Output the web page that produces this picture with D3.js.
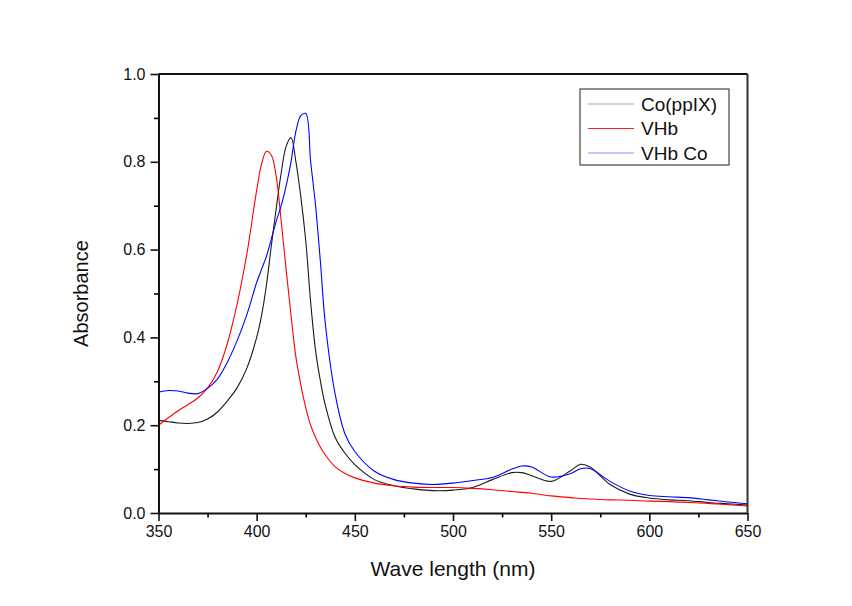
<!DOCTYPE html>
<head>
  <meta charset="utf-8">
  <script src="https://d3js.org/d3.v7.min.js"></script>
  <style>
    body { margin:0; background:#fff; }
    svg { font-family: "Liberation Sans", Arial, sans-serif; }
  </style>
</head>
<body>
<div id="chart"></div>
<script>

// wavelength grid (nm)
var wavelength = [350, 355, 360, 365, 370, 375, 380, 385, 390, 395, 400, 402.5, 405, 407.5, 410, 412.5, 415, 417.5, 420, 422.5, 425, 427.5, 430, 432.5, 435, 440, 445, 450, 460, 470, 480, 490, 500, 510, 520, 530, 535, 540, 550, 560, 565, 570, 580, 590, 600, 610, 620, 630, 640, 650];

// Co(ppIX)
var coPPIX = [0.211, 0.208, 0.205, 0.204, 0.206, 0.214, 0.230, 0.255, 0.285, 0.330, 0.400, 0.450, 0.520, 0.610, 0.695, 0.775, 0.835, 0.855, 0.800, 0.720, 0.620, 0.480, 0.370, 0.300, 0.245, 0.172, 0.136, 0.110, 0.076, 0.062, 0.055, 0.051, 0.052, 0.058, 0.076, 0.092, 0.092, 0.085, 0.072, 0.097, 0.111, 0.104, 0.065, 0.043, 0.034, 0.030, 0.028, 0.024, 0.021, 0.018];

// VHb
var vhb = [0.200, 0.217, 0.233, 0.247, 0.262, 0.285, 0.322, 0.385, 0.475, 0.590, 0.735, 0.795, 0.824, 0.815, 0.765, 0.665, 0.555, 0.450, 0.355, 0.292, 0.240, 0.200, 0.172, 0.150, 0.132, 0.105, 0.090, 0.080, 0.068, 0.062, 0.059, 0.058, 0.058, 0.056, 0.053, 0.049, 0.047, 0.045, 0.039, 0.035, 0.033, 0.032, 0.030, 0.029, 0.027, 0.026, 0.024, 0.022, 0.019, 0.016];

// VHb Co
var vhbCo = [0.275, 0.279, 0.278, 0.273, 0.272, 0.284, 0.305, 0.343, 0.392, 0.452, 0.525, 0.555, 0.585, 0.625, 0.665, 0.700, 0.745, 0.800, 0.870, 0.905, 0.910, 0.800, 0.700, 0.570, 0.430, 0.270, 0.180, 0.140, 0.095, 0.076, 0.068, 0.065, 0.068, 0.074, 0.081, 0.100, 0.107, 0.105, 0.082, 0.090, 0.101, 0.101, 0.072, 0.050, 0.040, 0.037, 0.035, 0.030, 0.025, 0.021];

var seriesNames = ["Co(ppIX)", "VHb", "VHb Co"];
var seriesColors = ["#1a1a1a", "#ff0000", "#0000ff"];
var legendColors = ["#a8a8a8", "#ff2020", "#9090ff"];
var xTicks = [350, 400, 450, 500, 550, 600, 650];
var yTicks = [0.0, 0.2, 0.4, 0.6, 0.8, 1.0];

var width = 852, height = 606;
var margin = {left: 158.5, right: 852 - 747.5, top: 74, bottom: 606 - 513};

var svg = d3.select("#chart").append("svg")
    .attr("width", width)
    .attr("height", height);

var x = d3.scaleLinear().domain([350, 650]).range([margin.left, width - margin.right]);
var y = d3.scaleLinear().domain([0, 1]).range([height - margin.bottom, margin.top]);

svg.append("clipPath").attr("id", "clip")
  .append("rect")
    .attr("x", margin.left).attr("y", margin.top)
    .attr("width", x(650) - x(350)).attr("height", y(0) - y(1));

var line = d3.line()
    .x(function(d) { return x(d[0]); })
    .y(function(d) { return y(d[1]); })
    .curve(d3.curveCatmullRom.alpha(0.5));

var allSeries = [coPPIX, vhb, vhbCo];

svg.append("g").attr("clip-path", "url(#clip)")
  .selectAll("path")
    .data(allSeries)
  .enter().append("path")
    .attr("d", function(s) { return line(wavelength.map(function(w, i) { return [w, s[i]]; })); })
    .attr("fill", "none")
    .attr("stroke", function(d, i) { return seriesColors[i]; })
    .attr("stroke-width", 1.1);

// minor ticks
var xMinor = d3.range(375, 650, 50);
var yMinor = d3.range(0.1, 1.0, 0.2);

svg.append("g")
    .attr("transform", "translate(0," + y(0) + ")")
    .call(d3.axisBottom(x).tickValues(xMinor).tickSize(4.5).tickFormat(""))
    .call(function(g) { g.select(".domain").remove(); g.selectAll("line").attr("stroke-width", 1.6); });

svg.append("g")
    .attr("transform", "translate(" + x(350) + ",0)")
    .call(d3.axisLeft(y).tickValues(yMinor).tickSize(4.5).tickFormat(""))
    .call(function(g) { g.select(".domain").remove(); g.selectAll("line").attr("stroke-width", 1.6); });

// major axes
var xAxis = svg.append("g")
    .attr("transform", "translate(0," + y(0) + ")")
    .call(d3.axisBottom(x).tickValues(xTicks).tickSize(8).tickPadding(5).tickSizeOuter(0));

var yAxis = svg.append("g")
    .attr("transform", "translate(" + x(350) + ",0)")
    .call(d3.axisLeft(y).tickValues(yTicks).tickSize(8).tickPadding(5).tickSizeOuter(0).tickFormat(d3.format(".1f")));

[xAxis, yAxis].forEach(function(g) {
  g.selectAll("line").attr("stroke-width", 1.6).attr("stroke", "#111");
  g.select(".domain").attr("stroke-width", 2).attr("stroke", "#111");
  g.selectAll("text").attr("font-size", "16px").attr("fill", "#111")
    .attr("font-family", "'Liberation Sans', Arial, sans-serif");
});

// top and right frame
svg.append("line")
    .attr("x1", x(350)).attr("x2", x(650)).attr("y1", y(1)).attr("y2", y(1))
    .attr("stroke", "#111").attr("stroke-width", 2);
svg.append("line")
    .attr("x1", x(650)).attr("x2", x(650)).attr("y1", y(1)).attr("y2", y(0))
    .attr("stroke", "#333").attr("stroke-width", 2);

// axis titles
svg.append("text")
    .attr("x", (x(350) + x(650)) / 2)
    .attr("y", 576)
    .attr("text-anchor", "middle")
    .attr("font-size", "21px")
    .attr("fill", "#111")
    .text("Wave length (nm)");

svg.append("text")
    .attr("transform", "translate(88," + (y(0) + y(1)) / 2 + ") rotate(-90)")
    .attr("text-anchor", "middle")
    .attr("font-size", "20px")
    .attr("fill", "#111")
    .text("Absorbance");

// legend
var legend = svg.append("g");
legend.append("rect")
    .attr("x", 580).attr("y", 89)
    .attr("width", 149).attr("height", 76)
    .attr("fill", "#fff")
    .attr("stroke", "#444").attr("stroke-width", 1.2);

var items = legend.selectAll("g.item")
    .data(seriesNames)
  .enter().append("g")
    .attr("class", "item")
    .attr("transform", function(d, i) { return "translate(0," + (104 + i * 24.5) + ")"; });

items.append("line")
    .attr("x1", 588).attr("x2", 634)
    .attr("stroke", function(d, i) { return legendColors[i]; })
    .attr("stroke-width", 1.2);

items.append("text")
    .attr("x", 641)
    .attr("dy", "0.35em")
    .attr("font-size", "19px")
    .attr("fill", "#111")
    .text(function(d) { return d; });

</script>
</body>
